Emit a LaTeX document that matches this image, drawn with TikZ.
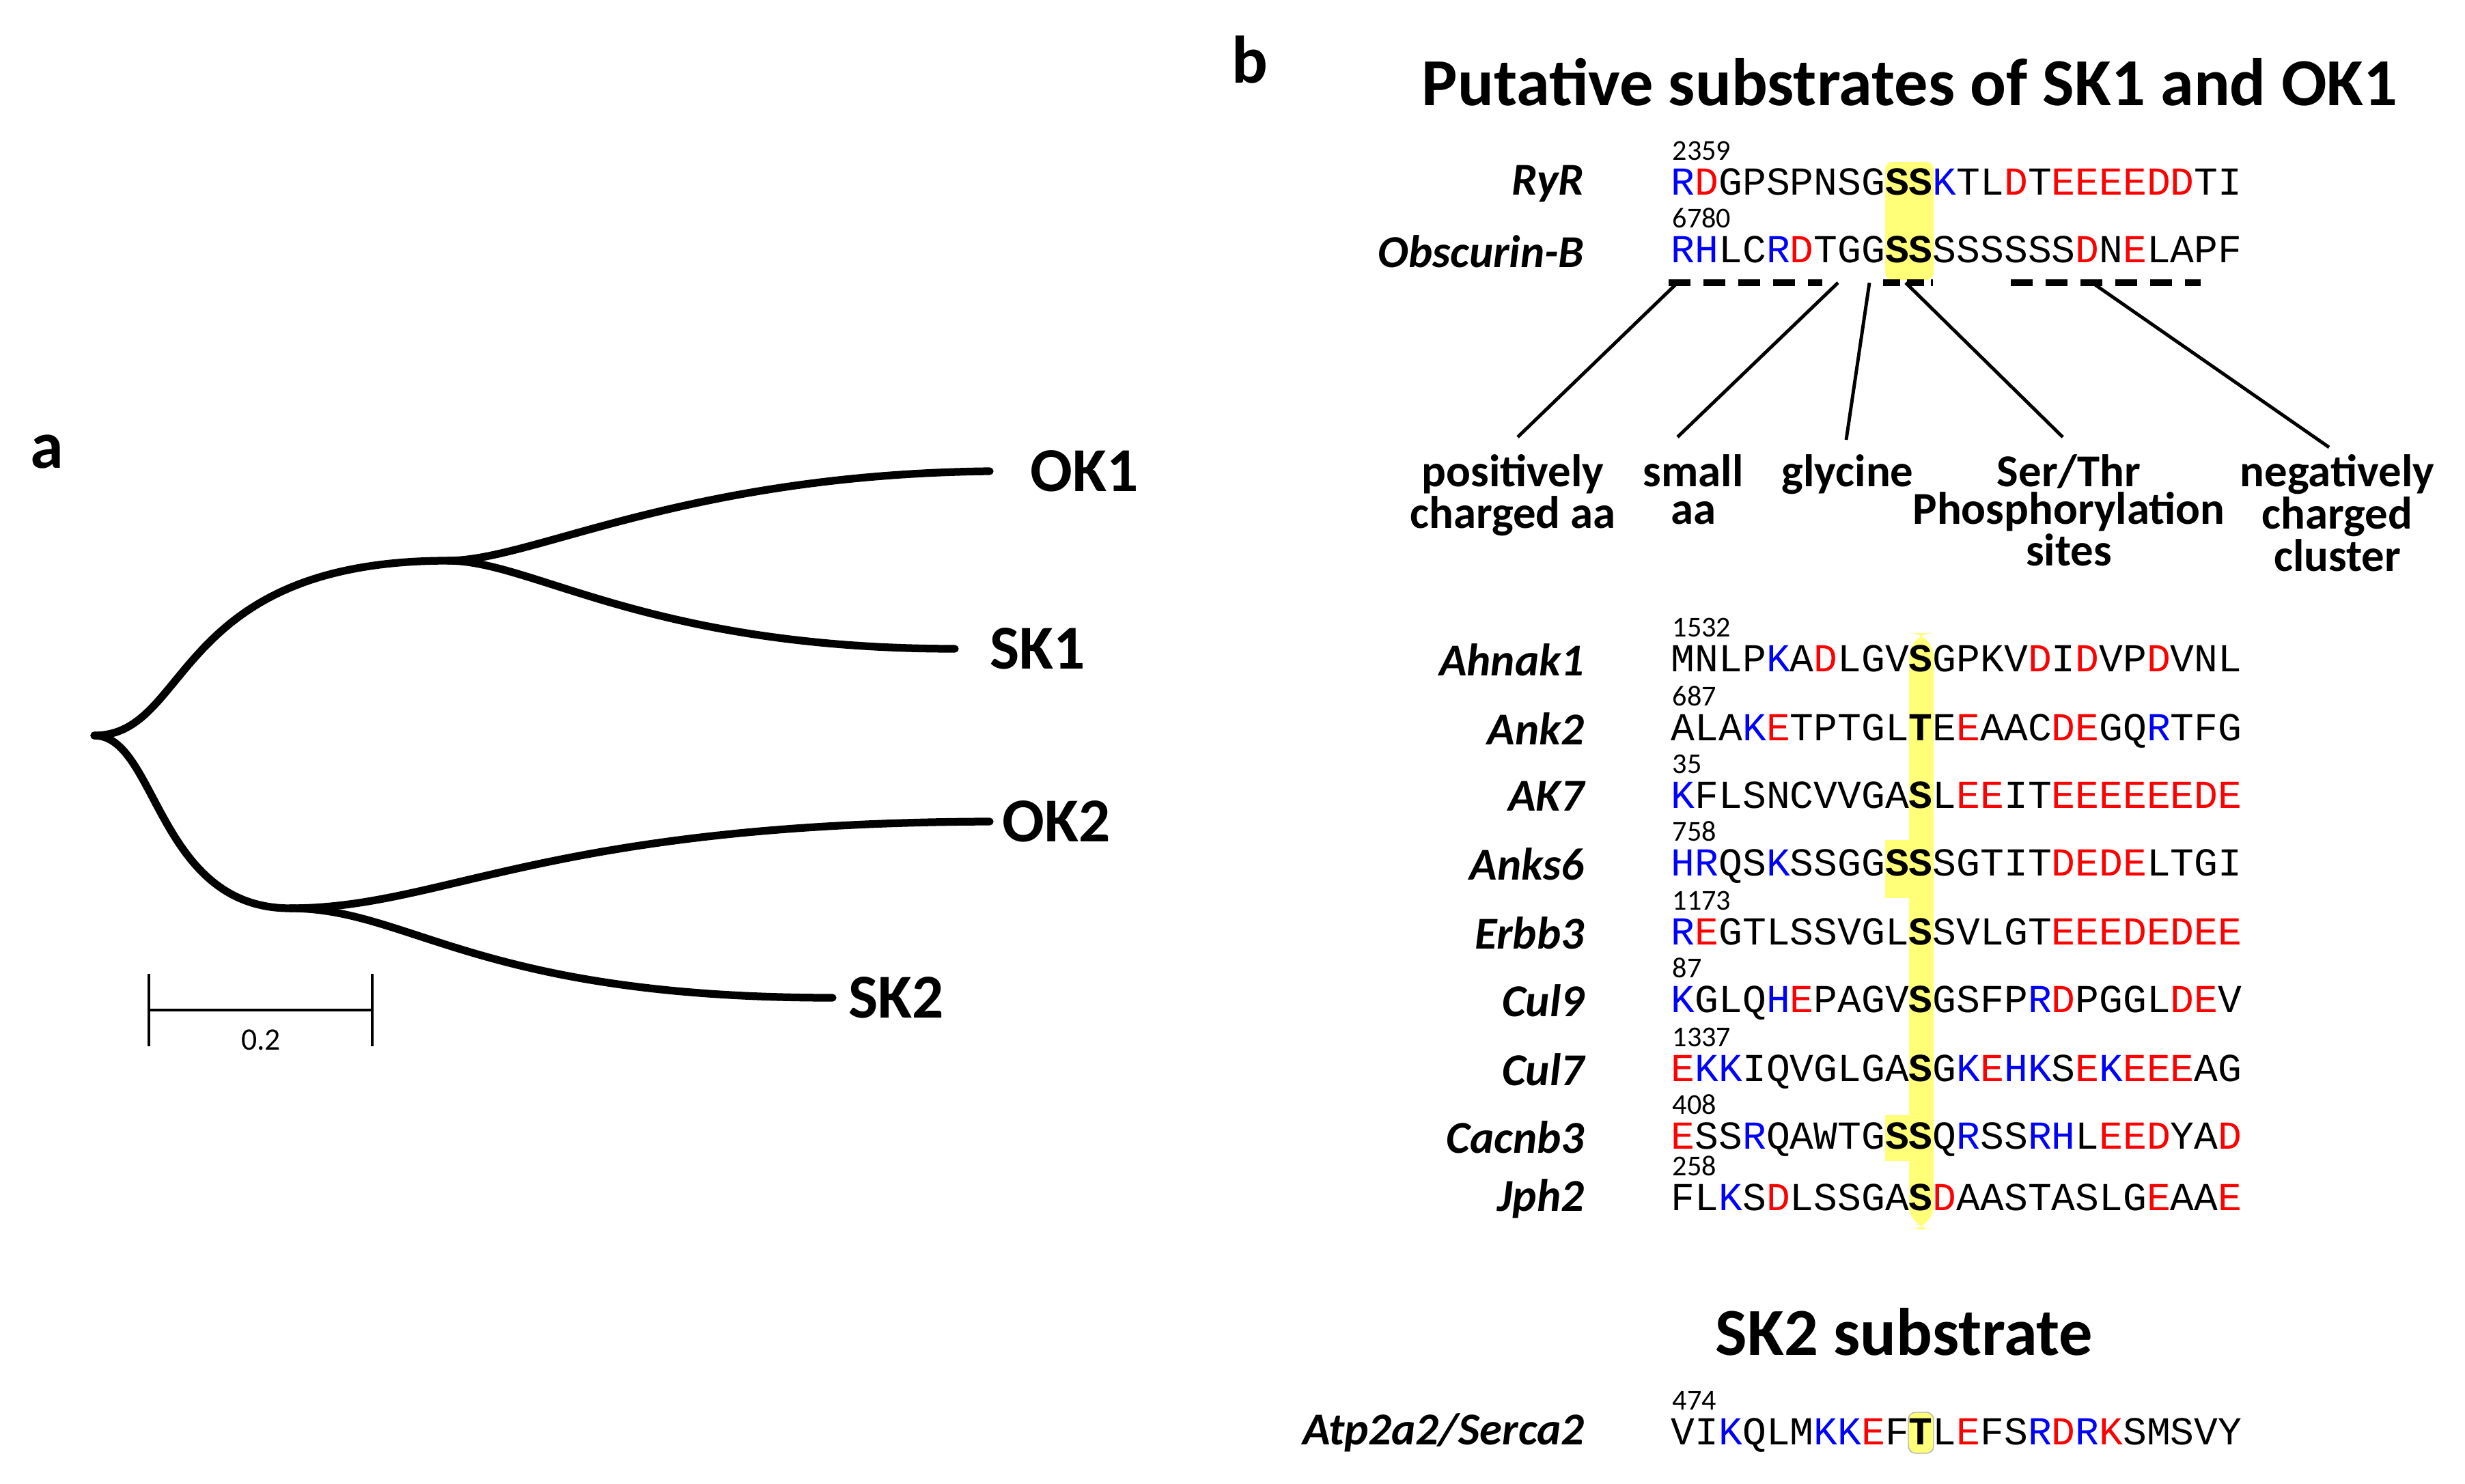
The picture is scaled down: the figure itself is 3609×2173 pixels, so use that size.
\documentclass[tikz,border=0pt]{standalone}
\usepackage{fontspec}
\usepackage{xcolor}
\setmainfont{Carlito}
\newfontfamily\seqfont{Liberation Mono}
\definecolor{seqblue}{RGB}{0,0,255}
\definecolor{seqred}{RGB}{255,0,0}
\definecolor{hilite}{RGB}{255,255,120}
\newcommand\Bl[1]{\textcolor{seqblue}{#1}}
\newcommand\Rd[1]{\textcolor{seqred}{#1}}
\newcommand\Hl[1]{\textbf{#1}}
\tikzset{
  branch/.style={line width=3.2pt, line cap=round},
  leaf/.style={anchor=west, font=\fontsize{26}{28}\selectfont\bfseries, inner sep=0pt},
  seq/.style={anchor=base west, font=\fontsize{16.5}{18}\selectfont\seqfont, inner sep=0pt},
  posnum/.style={anchor=base west, font=\fontsize{12}{13}\selectfont, inner sep=0pt},
  prot/.style={anchor=east, font=\fontsize{19}{20}\selectfont\bfseries\itshape, inner sep=0pt},
  feat/.style={align=center, font=\fontsize{19}{15.6}\selectfont\bfseries, inner sep=0pt, anchor=north},
  head/.style={font=\fontsize{28}{30}\selectfont\bfseries, inner sep=0pt},
  panel/.style={font=\fontsize{28}{30}\selectfont\bfseries, inner sep=0pt},
  motif/.style={line width=3pt, dash pattern=on 9pt off 5.5pt},
}
\begin{document}
\begin{tikzpicture}[x=0.01cm, y=-0.01cm]
\useasboundingbox (0,0) rectangle (3609,2173);

% panel a: tree
\node[panel] (pa) at (69,662) {a};
\coordinate (root) at (138,1077);
\coordinate (n1) at (656,821);
\coordinate (n2) at (425,1330);
\coordinate (eok1) at (1449,690);
\coordinate (esk1) at (1398,950);
\coordinate (eok2) at (1449,1203);
\coordinate (esk2) at (1219,1461);
\node[leaf] (ok1) at (1508,690) {OK1};
\node[leaf] (sk1) at (1449,950) {SK1};
\node[leaf] (ok2) at (1467,1203) {OK2};
\node[leaf] (sk2) at (1242,1461) {SK2};
\draw[branch] (root) .. controls (280,1077) and (250,821) .. (n1);
\draw[branch] (root) .. controls (230,1077) and (230,1330) .. (n2);
\draw[branch] (n1) .. controls (780,821) and (1000,695) .. (eok1);
\draw[branch] (n1) .. controls (780,821) and (950,950) .. (esk1);
\draw[branch] (n2) .. controls (650,1330) and (800,1205) .. (eok2);
\draw[branch] (n2) .. controls (600,1330) and (700,1461) .. (esk2);
% scale bar
\coordinate (sb1) at (218,1479);
\coordinate (sb2) at (545,1479);
\draw[line width=1.2pt] (sb1) -- (sb2);
\draw[line width=1.2pt] ([yshift=-15]sb1) -- ([yshift=15]sb1);
\draw[line width=1.2pt] ([yshift=-15]sb2) -- ([yshift=15]sb2);
\node[font=\fontsize{13}{14}\selectfont] (sbl) at (382,1523) {0.2};

% panel b
\node[panel] (pb) at (1830,87) {b};
\node[head] (t1) at (2796,120) {Putative substrates of SK1 and OK1};
\node[head] (t2) at (2788,1950) {SK2 substrate};

% highlights
\fill[hilite, rounded corners=3pt] (2760,237) rectangle (2831,410);
\fill[hilite] (2760,1230) rectangle (2831,1315);
\fill[hilite] (2760,1633) rectangle (2831,1700);
\fill[hilite, rounded corners=10pt] (2795,927) rectangle (2831,1800);
\fill[hilite, draw=gray!60, rounded corners=3pt] (2794,2068) rectangle (2831,2128);

% top sequences
\foreach \nm/\num/\yy/\sq in {
  RyR/2359/269/{\Bl{R}\Rd{D}GPSPNSG\Hl{SS}\Bl{K}TL\Rd{D}T\Rd{EEEEDD}TI},
  Obscurin-B/6780/368/{\Bl{RH}LC\Bl{R}\Rd{D}TGG\Hl{SS}SSSSSS\Rd{D}N\Rd{E}LAPF}}{
  \node[prot] (p\num) at (2320,\yy) {\nm};
  \node[posnum] (n\num) at (2448,\yy-34) {\num};
  \node[seq] (s\num) at (2446,\yy+17) {\sq};
}
% motif dashes
\draw[motif] (2443,414) -- (2668,414);
\draw[motif, dash pattern=on 7pt off 3pt] (2757,414) -- (2830,414);
\draw[motif] (2944,414) -- (3222,414);

% motif labels
\node[feat] (f1) at (2215,665) {positively\\charged aa};
\node[feat] (f2) at (2479,665) {small\\aa};
\node[feat] (f3) at (2705,665) {glycine};
\node[feat] (f4) at (3029,665) {Ser/Thr\\Phosphorylation\\sites};
\node[feat] (f5) at (3422,665) {negatively\\charged\\cluster};
\coordinate (m1) at (2456,414);
\coordinate (m2) at (2691,414);
\coordinate (m3) at (2737,414);
\coordinate (m4) at (2790,414);
\coordinate (m5) at (3066,416);
\draw[line width=1.4pt] (m1) -- (2222,640);
\draw[line width=1.4pt] (m2) -- (2456,640);
\draw[line width=1.4pt] (m3) -- (2703,644);
\draw[line width=1.4pt] (m4) -- (3020,640);
\draw[line width=1.4pt] (m5) -- (3410,655);

% lower sequences
\foreach \nm/\num/\yy/\sq in {
  Ahnak1/1532/966/{MNLP\Bl{K}A\Rd{D}LGV\Hl{S}GPKV\Rd{D}I\Rd{D}VP\Rd{D}VNL},
  Ank2/687/1067/{ALA\Bl{K}\Rd{E}TPTGL\Hl{T}E\Rd{E}AAC\Rd{DE}GQ\Bl{R}TFG},
  AK7/35/1166/{\Bl{K}FLSNCVVGA\Hl{S}L\Rd{EE}IT\Rd{EEEEEEDE}},
  Anks6/758/1265/{\Bl{HR}QS\Bl{K}SSGG\Hl{SS}SGTIT\Rd{DEDE}LTGI},
  Erbb3/1173/1366/{\Bl{R}\Rd{E}GTLSSVGL\Hl{S}SVLGT\Rd{EEEDEDEE}},
  Cul9/87/1465/{\Bl{K}GLQ\Bl{H}\Rd{E}PAGV\Hl{S}GSFP\Bl{R}\Rd{D}PGGL\Rd{DE}V},
  Cul7/1337/1566/{\Rd{E}\Bl{KK}IQVGLGA\Hl{S}G\Bl{K}\Rd{E}\Bl{HK}S\Rd{E}\Bl{K}\Rd{EEE}AG},
  Cacnb3/408/1665/{\Rd{E}SS\Bl{R}QAWTG\Hl{SS}Q\Bl{R}SS\Bl{RH}L\Rd{EED}YA\Rd{D}},
  Jph2/258/1755/{FL\Bl{K}S\Rd{D}LSSGA\Hl{S}\Rd{D}AASTASLG\Rd{E}AA\Rd{E}}}{
  \node[prot] (p\num) at (2320,\yy) {\nm};
  \node[posnum] (n\num) at (2448,\yy-34) {\num};
  \node[seq] (s\num) at (2446,\yy+17) {\sq};
}

% SK2 substrate
\node[prot] (p474) at (2320,2098) {Atp2a2/Serca2};
\node[posnum] (n474) at (2448,2064) {474};
\node[seq] (s474) at (2446,2115) {VI\Bl{K}QLM\Bl{KK}\Rd{E}F\Hl{T}L\Rd{E}FS\Bl{R}\Rd{D}\Bl{R}\Rd{K}SMSVY};
\end{tikzpicture}
\end{document}
